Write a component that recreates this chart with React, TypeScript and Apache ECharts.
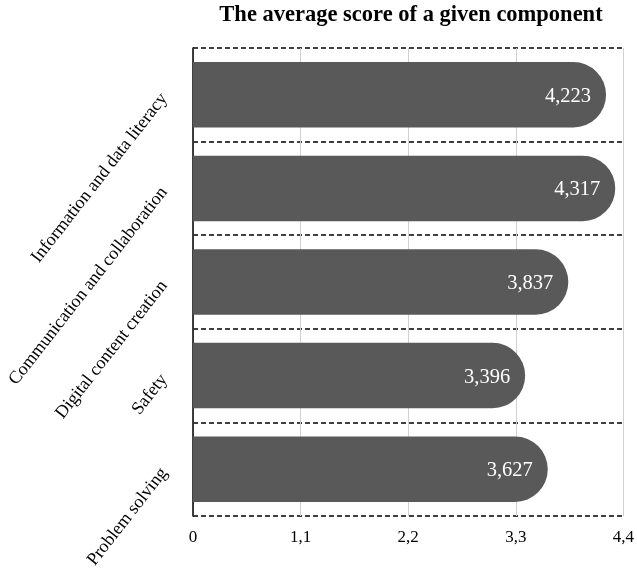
import React, { useEffect, useRef } from "react";
import * as echarts from "echarts";

const categories = [
  "Information and data literacy",
  "Communication and collaboration",
  "Digital content creation",
  "Safety",
  "Problem solving",
];
const values = [4.223, 4.317, 3.837, 3.396, 3.627];
const xTicks = [0, 1.1, 2.2, 3.3, 4.4];
const title = "The average score of a given component";

const FONT = "'Liberation Serif', 'Times New Roman', serif";

export default function App() {
  const ref = useRef<HTMLDivElement>(null);
  useEffect(() => {
    if (!ref.current) return;
    const chart = echarts.init(ref.current, undefined, { renderer: "svg" });
    chart.setOption({
      animation: false,
      title: {
        text: title,
        left: 406,
        textAlign: "center",
        top: -3,
        textStyle: { fontFamily: FONT, fontSize: 22.5, fontWeight: "bold", color: "#000" },
      },
      grid: { left: 193, right: 11, top: 48, bottom: 61 },
      xAxis: {
        type: "value",
        min: xTicks[0],
        max: xTicks[xTicks.length - 1],
        interval: 1.1,
        axisLine: { show: false },
        axisTick: { show: false },
        axisLabel: {
          fontFamily: FONT,
          fontSize: 17,
          color: "#000",
          margin: 12,
          formatter: (v: number) => String(Math.round(v * 10) / 10).replace(".", ","),
        },
        splitLine: { show: true, lineStyle: { color: "#d0d0d0", width: 1 } },
      },
      yAxis: {
        type: "category",
        data: categories,
        inverse: true,
        axisLine: { show: true, lineStyle: { color: "#000", width: 1.5 } },
        axisTick: { show: false },
        axisLabel: {
          fontFamily: FONT,
          fontSize: 18,
          color: "#000",
          rotate: 52,
          margin: 30,
        },
        splitLine: {
          show: true,
          lineStyle: { color: "#000", type: [5, 3], width: 1.6 },
        },
      },
      series: [
        {
          type: "bar",
          data: values,
          barWidth: "70%",
          itemStyle: { color: "#595959", borderRadius: [0, 33, 33, 0] },
          label: {
            show: true,
            position: "insideRight",
            distance: 15,
            color: "#fff",
            fontFamily: FONT,
            fontSize: 20.5,
            formatter: (p: any) => p.value.toFixed(3).replace(".", ","),
          },
        },
      ],
    });
    return () => chart.dispose();
  }, []);
  return (
    <div
      ref={ref}
      style={{ position: "fixed", left: 0, top: 0, width: 637, height: 577 }}
    />
  );
}
